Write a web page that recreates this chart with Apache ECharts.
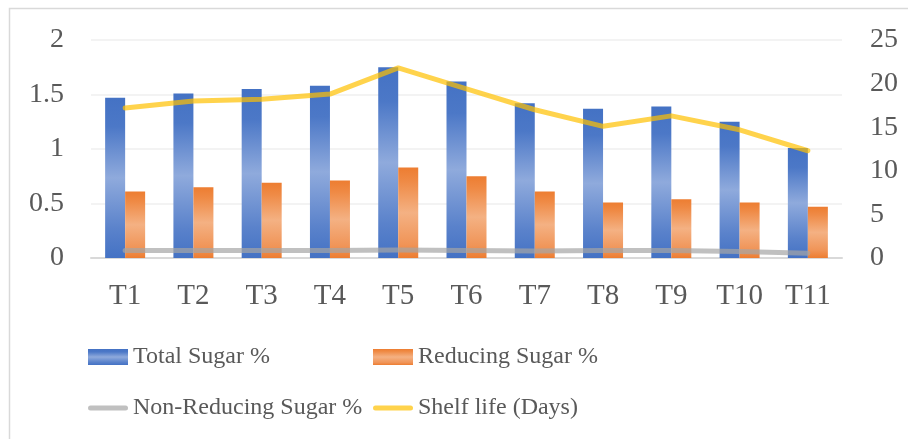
<!DOCTYPE html>
<html>
<head>
<meta charset="utf-8">
<script src="https://cdn.jsdelivr.net/npm/echarts@6/dist/echarts.min.js"></script>
<style>
html,body{margin:0;padding:0;background:#fff;}
#chart{width:908px;height:439px;}
</style>
</head>
<body>
<div id="chart"></div>
<script>
const categories = ['T1','T2','T3','T4','T5','T6','T7','T8','T9','T10','T11'];
const totalSugar = [1.47,1.51,1.55,1.58,1.75,1.62,1.42,1.37,1.39,1.25,1.01];
const reducingSugar = [0.61,0.65,0.69,0.71,0.83,0.75,0.61,0.51,0.54,0.51,0.47];
const nonReducingSugar = [0.86,0.86,0.86,0.87,0.92,0.87,0.81,0.86,0.85,0.74,0.54];
const shelfLife = [17.2,18.0,18.2,18.8,21.8,19.4,17.0,15.1,16.3,14.7,12.3];
const leftTicks = [0, 0.5, 1, 1.5, 2];
const rightTicks = [0, 5, 10, 15, 20, 25];

const FONT = '"Liberation Serif","Times New Roman",serif';
const TXT = '#595959';
const LINE_ICON = 'path://M2.5,0 L37.5,0 A2.5,2.5 0 0 1 37.5,5 L2.5,5 A2.5,2.5 0 0 1 2.5,0 Z';

const blueGrad = new echarts.graphic.LinearGradient(0,0,0,1,[
  {offset:0,color:'#4472C4'},{offset:0.18,color:'#4C78C7'},
  {offset:0.5,color:'#8FAADC'},{offset:0.82,color:'#5A82CB'},{offset:1,color:'#4472C4'}]);
const orangeGrad = new echarts.graphic.LinearGradient(0,0,0,1,[
  {offset:0,color:'#ED7D31'},{offset:0.15,color:'#EF8A45'},
  {offset:0.5,color:'#F4B183'},{offset:0.85,color:'#F09457'},{offset:1,color:'#ED7D31'}]);

const chart = echarts.init(document.getElementById('chart'), null, {renderer:'canvas'});
chart.setOption({
  backgroundColor:'#fff',
  animation:false,
  graphic:[{type:'rect',silent:true,z:-10,shape:{x:9.5,y:8.5,width:960,height:500},
    style:{fill:'none',stroke:'#D9D9D9',lineWidth:1.5}}],
  grid:{left:91,right:66,top:40,bottom:181,containLabel:false},
  legend:[
    {orient:'vertical',left:83,top:340,itemWidth:40,itemHeight:16,itemGap:27,
     data:[{name:'Total Sugar %',icon:'rect'},{name:'Non-Reducing Sugar %',icon:LINE_ICON}],
     textStyle:{fontFamily:FONT,fontSize:24,color:TXT}},
    {orient:'vertical',left:368,top:340,itemWidth:40,itemHeight:16,itemGap:27,
     data:[{name:'Reducing Sugar %',icon:'rect'},{name:'Shelf life (Days)',icon:LINE_ICON}],
     textStyle:{fontFamily:FONT,fontSize:24,color:TXT}}
  ],
  xAxis:{type:'category',data:categories,boundaryGap:true,
    axisTick:{show:false},
    axisLine:{lineStyle:{color:'#D9D9D9',width:2}},
    axisLabel:{fontFamily:FONT,fontSize:29,color:TXT,margin:24}},
  yAxis:[
    {type:'value',min:leftTicks[0],max:leftTicks[leftTicks.length-1],interval:0.5,
     axisLine:{show:false},axisTick:{show:false},
     splitLine:{lineStyle:{color:'#EFEFEF',width:1.5}},
     axisLabel:{fontFamily:FONT,fontSize:28,color:TXT,margin:27}},
    {type:'value',min:rightTicks[0],max:rightTicks[rightTicks.length-1],interval:5,
     axisLine:{show:false},axisTick:{show:false},splitLine:{show:false},
     axisLabel:{fontFamily:FONT,fontSize:28,color:TXT,margin:28}}
  ],
  series:[
    {name:'Total Sugar %',type:'bar',yAxisIndex:0,data:totalSugar,barWidth:20,barGap:'0%',
     itemStyle:{color:blueGrad}},
    {name:'Reducing Sugar %',type:'bar',yAxisIndex:0,data:reducingSugar,barWidth:20,barGap:'0%',
     itemStyle:{color:orangeGrad}},
    {name:'Non-Reducing Sugar %',type:'line',yAxisIndex:1,data:nonReducingSugar,
     symbol:'none',z:5,
     itemStyle:{color:'rgba(165,165,165,0.7)'},
     lineStyle:{color:'rgba(165,165,165,0.7)',width:5,cap:'round',join:'round'}},
    {name:'Shelf life (Days)',type:'line',yAxisIndex:1,data:shelfLife,
     symbol:'none',z:6,
     itemStyle:{color:'rgba(255,192,0,0.7)'},
     lineStyle:{color:'rgba(255,192,0,0.7)',width:5,cap:'round',join:'round'}}
  ]
});
</script>
</body>
</html>
